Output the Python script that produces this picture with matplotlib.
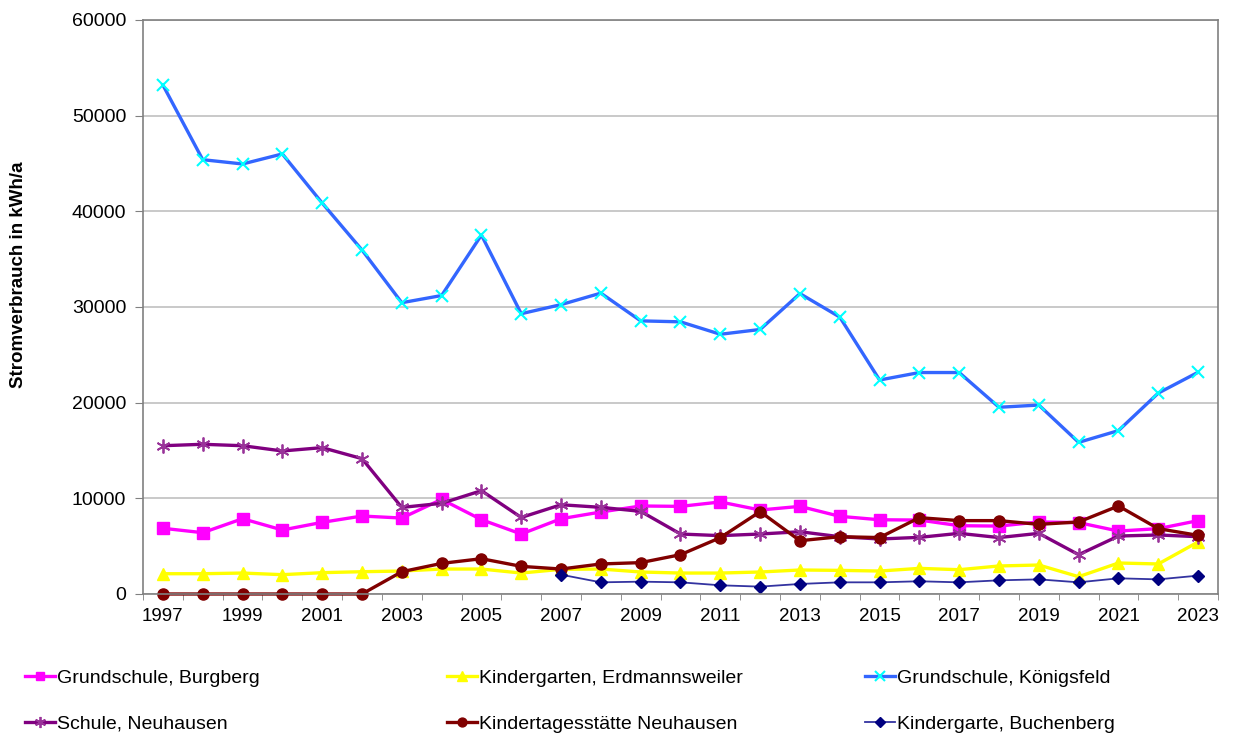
import matplotlib
matplotlib.use("Agg")
import matplotlib.pyplot as plt
import numpy as np

plt.rcParams['font.family'] = ['Liberation Sans', 'DejaVu Sans']

years = list(range(1997, 2024))

burgberg = [6870, 6410, 7870, 6690, 7490, 8150, 7940, 9890, 7770, 6270,
            7870, 8570, 9200, 9160, 9620, 8780, 9160, 8120, 7760, 7730,
            7140, 7100, 7530, 7460, 6580, 6830, 7670]
erdmannsweiler = [2120, 2120, 2190, 2020, 2230, 2330, 2400, 2610, 2610, 2190,
                  2580, 2610, 2300, 2190, 2190, 2300, 2510, 2470, 2400, 2680,
                  2540, 2930, 3030, 1810, 3240, 3140, 5440]
koenigsfeld = [53200, 45400, 44950, 46000, 40870, 35960, 30450, 31200, 37520, 29300,
               30250, 31450, 28550, 28450, 27150, 27650, 31400, 28950, 22370, 23150,
               23150, 19520, 19750, 15850, 17080, 21000, 23180]
schule_neuhausen = [15500, 15650, 15500, 14950, 15300, 14150, 9050, 9480, 10800, 8000,
                    9330, 9060, 8640, 6270, 6100, 6270, 6510, 5990, 5750, 5920,
                    6340, 5900, 6340, 4110, 6060, 6170, 5990]
kita_neuhausen = [0, 0, 0, 0, 0, 0, 2330, 3200, 3690, 2890,
                  2610, 3140, 3280, 4110, 5890, 8610, 5570, 5990, 5900, 7980,
                  7670, 7670, 7280, 7530, 9200, 6830, 6130]
buchenberg = [None] * 10 + [2020, 1220, 1290, 1220, 910, 770, 1050, 1220, 1220, 1330,
                            1220, 1430, 1530, 1220, 1640, 1530, 1920]

series_labels = ["Grundschule, Burgberg", "Kindergarten, Erdmannsweiler",
                 "Grundschule, Königsfeld", "Schule, Neuhausen",
                 "Kindertagesstätte Neuhausen", "Kindergarte, Buchenberg"]

fig = plt.figure(figsize=(12.34, 7.36), dpi=100)
ax = fig.add_axes([143/1234, 1-594/736, (1218-143)/1234, (594-20)/736])

x = np.arange(len(years))
bx = np.array([i for i, v in enumerate(buchenberg) if v is not None])
bv = np.array([v for v in buchenberg if v is not None])

h_burg, = ax.plot(x, burgberg, color='#FF00FF', lw=2.4, marker='s', ms=8,
                  mfc='#FF00FF', mec='#FF00FF', label=series_labels[0])
h_erd, = ax.plot(x, erdmannsweiler, color='#FFFF00', lw=2.4, marker='^', ms=9,
                 mfc='#FFFF00', mec='#FFFF00', label=series_labels[1])
h_koe, = ax.plot(x, koenigsfeld, color='#3366FF', lw=2.4, marker='x', ms=9, mew=1.5,
                 mec='#00FFFF', label=series_labels[2])
h_sn, = ax.plot(x, schule_neuhausen, color='#800080', lw=2.4, marker=(6, 2, 0), ms=10,
                mew=1.3, mec='#993399', label=series_labels[3])
h_kn, = ax.plot(x, kita_neuhausen, color='#800000', lw=2.4, marker='o', ms=8,
                mfc='#800000', mec='#800000', label=series_labels[4], clip_on=False)
h_bu, = ax.plot(bx, bv, color='#3333A0', lw=1.3, marker='D', ms=6,
                mfc='#000080', mec='#000080', label=series_labels[5])

ax.set_xlim(-0.5, len(years) - 0.5)
ax.set_ylim(0, 60000)
ax.set_yticks(np.arange(0, 60001, 10000))
ax.set_yticklabels([str(v) for v in range(0, 60001, 10000)], fontsize=14)
ax.set_xticks(x[::2])
ax.set_xticklabels([str(y) for y in years[::2]], fontsize=13.5)
ax.set_xticks(np.arange(-0.5, len(years), 1), minor=True)
ax.tick_params(axis='x', which='major', length=0, pad=10)
ax.tick_params(axis='x', which='minor', length=4.5, color='#808080', direction='out')
ax.tick_params(axis='y', length=6, color='#808080', direction='out', pad=6)
ax.grid(axis='y', color='#C0C0C0', lw=1.2)
ax.set_axisbelow(True)
for s in ax.spines.values():
    s.set_color('#808080')
    s.set_linewidth(1.2)

fig.text(19/1234, 1-275/736, "Stromverbrauch in kWh/a", fontsize=13.5,
         fontweight='bold', rotation=90, ha='center', va='center')

columns = [((h_burg, h_sn), 25), ((h_erd, h_kn), 447), ((h_koe, h_bu), 865)]
for hs, xpos in columns:
    leg = fig.legend(handles=list(hs), labels=[h.get_label() for h in hs],
                     loc='center left', bbox_to_anchor=(xpos/1234, 1-701/736),
                     ncol=1, fontsize=14, frameon=False, handlelength=1.55,
                     handletextpad=0.1, labelspacing=1.45, borderpad=0,
                     borderaxespad=0, markerscale=0.8)

fig.savefig("out.png", dpi=100)
